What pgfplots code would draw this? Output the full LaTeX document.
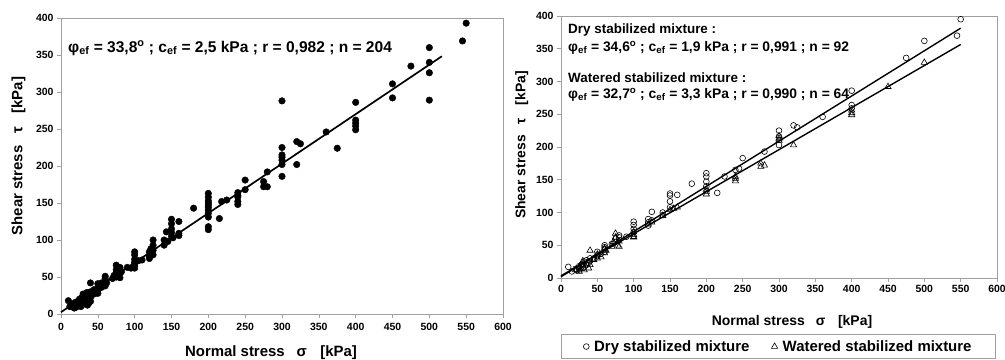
\documentclass[border=0pt]{standalone}
\usepackage{fontspec}
\setmainfont{Liberation Sans}
\usepackage{pgfplots}
\pgfplotsset{compat=1.18}
\definecolor{framegray}{RGB}{160,160,160}

\pgfplotstableread{
x y
10 18
12 10
15 10
15 14
18 8
20 12
20 16
20 9
22 14
24 11
25 17
25 20
25 13
27 10
28 22
28 15
30 18
30 24
30 13
30 27
32 20
33 16
34 25
35 22
35 18
35 29
36 12
37 24
38 20
38 15
40 30
40 42
40 26
40 22
40 17
42 28
45 33
45 27
50 41
50 35
50 28
50 32
52 38
55 36
55 42
58 40
60 51
60 45
60 38
60 48
62 42
70 48
72 52
75 66
75 60
75 50
75 56
78 58
80 63
80 55
80 49
80 62
82 57
90 63
95 62
100 84
100 80
100 74
100 68
100 62
100 70
100 65
105 72
110 73
120 78
120 75
120 84
125 100
125 93
125 86
125 80
122 88
140 100
140 93
143 111
145 98
150 128
150 122
150 115
150 105
150 110
152 103
160 125
160 109
160 106
180 143
200 163
200 158
200 153
200 147
200 140
200 136
200 131
200 118
200 114
200 150
200 144
215 129
218 152
225 154
240 164
240 158
240 152
240 148
240 160
250 181
250 168
275 179
275 172
280 172
280 192
300 186
300 288
300 225
300 215
300 208
300 202
300 212
320 233
320 202
325 230
360 246
375 224
400 286
400 262
400 258
400 254
400 249
450 311
450 292
475 335
500 360
500 340
500 326
500 289
550 393
545 369
}\alldata

\pgfplotstableread{
x y
10 17
15 10
20 14
22 12
25 18
25 13
28 20
30 22
30 16
32 25
35 20
35 27
38 23
40 30
40 26
45 30
50 40
50 35
50 33
55 37
60 50
60 47
60 40
60 44
70 52
75 60
75 55
80 65
80 62
80 58
90 63
100 86
100 81
100 75
100 70
120 90
120 85
120 80
125 101
125 88
140 100
140 96
150 129
150 126
150 117
150 108
160 127
180 144
200 160
200 155
200 147
200 140
215 130
225 155
240 165
245 167
250 183
280 193
300 225
300 216
300 203
320 233
325 230
360 246
400 286
400 264
400 259
475 336
500 362
550 395
545 370
}\drydata

\pgfplotstableread{
x y
20 12
25 10
25 16
28 14
30 20
30 26
32 12
35 22
38 15
40 42
40 20
45 28
50 30
50 36
55 32
60 45
60 38
62 42
70 48
72 55
75 68
75 62
78 50
80 56
80 48
100 63
100 66
100 70
100 62
120 82
125 85
140 95
150 104
155 106
160 108
200 132
200 128
200 135
240 155
240 148
240 152
275 175
275 170
280 172
300 217
300 213
300 210
320 203
400 256
400 252
400 249
450 292
500 329
}\wetdata

\pgfplotsset{
  shearaxis/.style={
    scale only axis,
    xmin=0, xmax=600, ymin=0, ymax=400,
    xtick={0,50,...,600}, ytick={0,50,...,400},
    axis line style={framegray, line width=0.8pt},
    tick style={framegray, line width=0.6pt},
    tick align=outside,
    major tick length=4bp,
    xtick pos=bottom, ytick pos=left,
    tick label style={font=\fontsize{10.5}{12}\selectfont\bfseries},
    /pgf/number format/assume math mode=true,
    clip=false,
  }
}

\begin{document}
\begin{tikzpicture}
% ---------- left chart ----------
\begin{axis}[shearaxis,
  at={(61bp,46bp)}, anchor=south west,
  width=442bp, height=296bp,
  xticklabel style={yshift=-2bp},
]
\addplot[only marks, mark=*, mark size=3.3bp, black] table[x=x,y=y] {\alldata};
\addplot[black, line width=1.7pt, no marks] coordinates {(0,2.5) (517,348.3)};
\end{axis}

% ---------- right chart ----------
\begin{axis}[shearaxis,
  at={(561bp,82bp)}, anchor=south west,
  width=436bp, height=262bp,
  legend style={at={(rel axis cs:0,-0.2137)}, anchor=north west,
    draw=framegray, line width=0.8pt,
    font=\fontsize{15}{17}\selectfont\bfseries,
    legend columns=2, inner xsep=22bp, inner ysep=4bp,
    /tikz/every odd column/.append style={column sep=3bp},
    /tikz/every even column/.append style={column sep=20bp}},
  legend image code/.code={\draw[#1] plot coordinates {(0bp,0bp)};},
]
\addplot[only marks, mark=o, mark size=2.9bp, black, line width=0.6pt] table[x=x,y=y] {\drydata};
\addlegendentry{Dry stabilized mixture}
\addplot[only marks, mark=triangle, mark size=3.6bp, black, line width=0.6pt] table[x=x,y=y] {\wetdata};
\addlegendentry{Watered stabilized mixture}
\addplot[black, line width=1.4pt, no marks, forget plot] coordinates {(0,1.9) (550,381.4)};
\addplot[black, line width=1.4pt, no marks, forget plot] coordinates {(0,3.3) (550,356.5)};
\end{axis}

% ---------- texts ----------
\node[anchor=west, font=\fontsize{15.6}{17}\selectfont\bfseries, inner sep=0pt] at (68bp,312bp)
  {φ\textsubscript{ef} = 33,8\textsuperscript{o} ; c\textsubscript{ef} = 2,5 kPa ; r = 0,982 ; n = 204};
\node[anchor=base, font=\fontsize{15}{17}\selectfont\bfseries, inner sep=0pt] at (271bp,3.5bp)
  {Normal stress\hspace{0.8em}σ\hspace{0.9em}[kPa]};
\node[rotate=90, font=\fontsize{15}{17}\selectfont\bfseries, inner sep=0pt] at (18.5bp,204bp)
  {Shear stress\hspace{0.8em}τ\hspace{0.9em}[kPa]};

\begin{scope}[every node/.style={anchor=west, font=\fontsize{13.5}{15}\selectfont\bfseries, inner sep=0pt}]
\node at (568bp,330bp) {Dry stabilized mixture :};
\node[font=\fontsize{13.9}{16}\selectfont\bfseries] at (568bp,312.3bp) {φ\textsubscript{ef} = 34,6\textsuperscript{o} ; c\textsubscript{ef} = 1,9 kPa ; r = 0,991 ; n = 92};
\node at (568bp,282bp) {Watered stabilized mixture :};
\node[font=\fontsize{13.9}{16}\selectfont\bfseries] at (568bp,265.5bp) {φ\textsubscript{ef} = 32,7\textsuperscript{o} ; c\textsubscript{ef} = 3,3 kPa ; r = 0,990 ; n = 64};
\end{scope}
\node[anchor=base, font=\fontsize{14}{16}\selectfont\bfseries, inner sep=0pt] at (792bp,34.5bp)
  {Normal stress\hspace{0.8em}σ\hspace{0.9em}[kPa]};
\node[rotate=90, font=\fontsize{14}{16}\selectfont\bfseries, inner sep=0pt] at (521.7bp,215bp)
  {Shear stress\hspace{0.8em}τ\hspace{0.9em}[kPa]};

\pgfresetboundingbox
\useasboundingbox (0,0) rectangle (1005bp,360bp);
\end{tikzpicture}
\end{document}
